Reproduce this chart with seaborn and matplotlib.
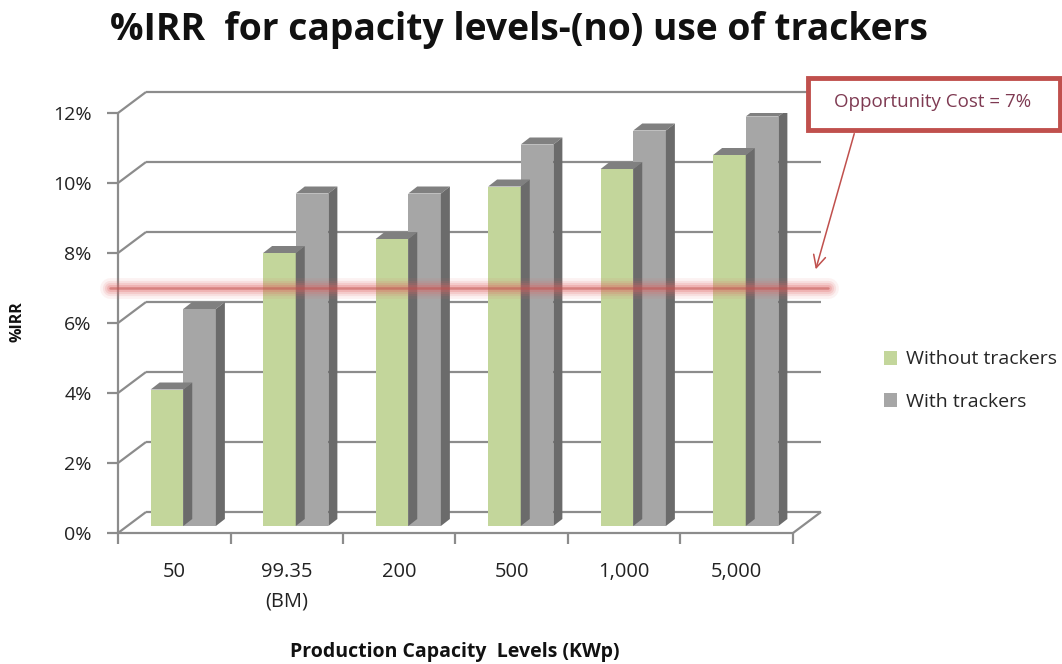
import matplotlib
matplotlib.use("Agg")
import matplotlib.pyplot as plt
import pandas as pd
import seaborn as sns
from matplotlib.patches import Polygon, Rectangle
from matplotlib.transforms import ScaledTranslation

# ---- data -------------------------------------------------------------
capacities = ["50", "99.35\n(BM)", "200", "500", "1,000", "5,000"]
without_trackers = [3.9, 7.8, 8.2, 9.7, 10.2, 10.6]
with_trackers = [6.2, 9.5, 9.5, 10.9, 11.3, 11.7]
series_names = ["Without trackers", "With trackers"]
y_ticks = [0, 2, 4, 6, 8, 10, 12]
opportunity_cost = 7

# ---- style ------------------------------------------------------------
sns.set_theme(style="white")
plt.rcParams["font.family"] = ["Open Sans", "DejaVu Sans"]

W, H, DPI = 1062, 664, 100
fig = plt.figure(figsize=(W / DPI, H / DPI), dpi=DPI)

# front plane of the pseudo-3D box, in pixels (bottom-up)
L, R, B, T = 118, 793, 131, 551
ax = fig.add_axes([L / W, B / H, (R - L) / W, (T - B) / H])

df = pd.DataFrame({
    "capacity": capacities * 2,
    "irr": without_trackers + with_trackers,
    "series": [series_names[0]] * len(capacities) + [series_names[1]] * len(capacities),
})

green, grey = "#C3D69B", "#A6A6A6"
face_colors = {green: ("#9AAE70", "#97AA6D"), grey: ("#828282", "#6B6B6B")}

sns.barplot(data=df, x="capacity", y="irr", hue="series", palette=[green, grey],
            width=0.58, saturation=1, ax=ax, linewidth=0, edgecolor="none")
handles, labels = ax.get_legend_handles_labels()
if ax.get_legend() is not None:
    ax.get_legend().remove()

n = len(capacities)
ax.set_xlim(-0.5, n - 0.5)
ax.set_ylim(0, 12)
for s in ax.spines.values():
    s.set_visible(False)
ax.grid(False)

# pixel -> data conversions for the depth offsets
px_x = (R - L) / n
px_y = (T - B) / 12.0
wall_dx, wall_dy = 28 / px_x, 21 / px_y      # depth of the whole box
bar_dx, bar_dy = 9 / px_x, 7 / px_y          # depth of one bar

line_c = "#8C8C8C"
kw = dict(color=line_c, lw=1.6, clip_on=False, zorder=1, solid_capstyle="butt")
# back wall gridlines and left wall diagonals
for k in y_ticks:
    ax.plot([-0.5 + wall_dx, n - 0.5 + wall_dx], [k + wall_dy] * 2, **kw)
    ax.plot([-0.5, -0.5 + wall_dx], [k, k + wall_dy], **kw)
# front edges of the box
ax.plot([-0.5, -0.5], [0, 12], **kw)
ax.plot([-0.5, n - 0.5], [0, 0], **kw)
ax.plot([n - 0.5, n - 0.5 + wall_dx], [0, wall_dy], **kw)

# bars sit part-way into the box: shift them and add top/side faces
shift = ax.transData + ScaledTranslation(9 / DPI, 7 / DPI, fig.dpi_scale_trans)
bars = [p for p in ax.patches if p.get_height() > 0]
for p in bars:
    x0, w, h = p.get_x(), p.get_width(), p.get_height()
    col = matplotlib.colors.to_hex(p.get_facecolor())
    top_c, side_c = face_colors.get(col, ("#808080", "#6B6B6B"))
    z = 2 if col == green else 3
    p.set_transform(shift)
    p.set_zorder(z)
    top = Polygon([(x0, h), (x0 + w, h), (x0 + w + bar_dx, h + bar_dy), (x0 + bar_dx, h + bar_dy)],
                  closed=True, facecolor=top_c, edgecolor="none", transform=shift, zorder=z)
    side = Polygon([(x0 + w, 0), (x0 + w + bar_dx, bar_dy), (x0 + w + bar_dx, h + bar_dy), (x0 + w, h)],
                   closed=True, facecolor=side_c, edgecolor="none", transform=shift, zorder=z)
    ax.add_patch(top)
    ax.add_patch(side)

# ticks
ax.set_yticks(y_ticks)
ax.set_yticklabels([f"{v}%" for v in y_ticks])
ax.set_xticks(range(n))
ax.set_xticklabels(capacities, linespacing=1.6)
ax.set_xticks([i - 0.5 for i in range(n + 1)], minor=True)
ax.tick_params(axis="y", which="major", left=True, length=8, width=1.6, color=line_c,
               pad=11, labelsize=14, labelcolor="#222222")
ax.tick_params(axis="x", which="major", bottom=True, length=0, pad=21,
               labelsize=14.5, labelcolor="#222222")
ax.tick_params(axis="x", which="minor", bottom=True, length=8, width=1.6, color=line_c)
ax.set_xlabel("")
ax.set_ylabel("")

# opportunity-cost line with soft glow
xr = [-0.5 - 8 / px_x, n - 0.5 + 35 / px_x]
for lw, a in [(15, 0.08), (11, 0.12), (8, 0.16), (5, 0.22)]:
    ax.plot(xr, [opportunity_cost] * 2, color="#E06060", lw=lw, alpha=a,
            clip_on=False, zorder=5, solid_capstyle="round")
ax.plot(xr, [opportunity_cost] * 2, color="#C0504D", lw=1.8, alpha=0.5,
        clip_on=False, zorder=5)

# callout box and arrow
box = Rectangle((808 / W, (H - 130) / H), 252 / W, 52 / H, transform=fig.transFigure,
                facecolor="white", edgecolor="#C0504D", lw=3.5, zorder=6)
fig.add_artist(box)
fig.text(933 / W, (H - 102) / H, f"Opportunity Cost = {opportunity_cost}%", ha="center",
         va="center", fontsize=13.5, color="#7E3A52", zorder=7)
ax.annotate("", xy=(815, H - 272), xycoords="figure pixels",
            xytext=(855, H - 131), textcoords="figure pixels",
            arrowprops=dict(arrowstyle="->", color="#C0504D", lw=1.1, mutation_scale=22),
            zorder=6)

# legend
fig.legend(handles, labels, loc="upper left", bbox_to_anchor=(866 / W, (H - 333) / H),
           frameon=False, handlelength=0.7, handleheight=0.7, handletextpad=0.45,
           labelspacing=1.25, fontsize=14)

# titles
fig.text(110 / W, (H - 30) / H, "%IRR  for capacity levels-(no) use of trackers",
         ha="left", va="center", fontsize=26.8, fontweight="bold", color="#111111")
fig.text(18 / W, (H - 322) / H, "%IRR", rotation=90, ha="center", va="center",
         fontsize=11.5, fontweight="bold", color="#111111")
fig.text(455 / W, (H - 652) / H, "Production Capacity  Levels (KWp)", ha="center",
         va="center", fontsize=14, fontweight="bold", color="#111111")

fig.savefig("out.png", dpi=DPI)
